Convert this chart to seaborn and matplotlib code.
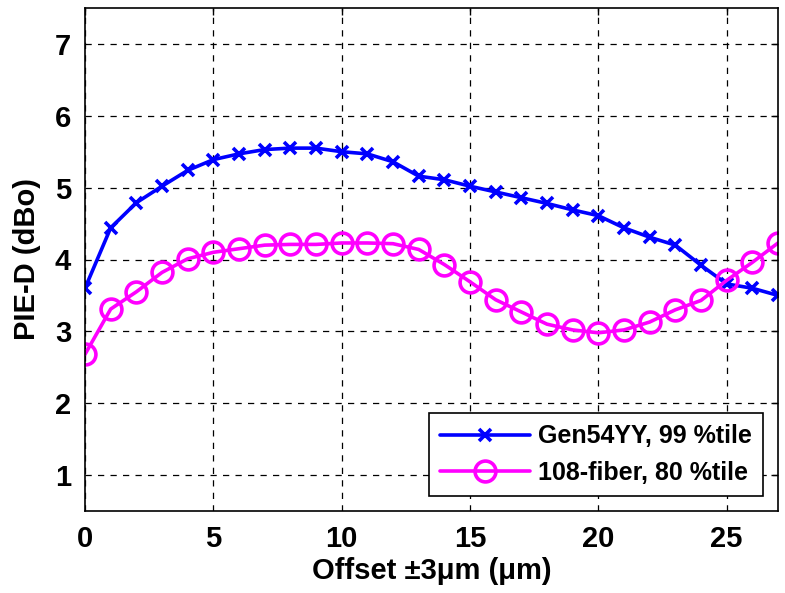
import matplotlib
matplotlib.use("Agg")
import matplotlib.pyplot as plt
import seaborn as sns
import numpy as np
import pandas as pd

offset = list(range(28))
gen54yy = [3.60, 4.44, 4.79, 5.02, 5.24, 5.39, 5.47, 5.53, 5.55, 5.55,
           5.50, 5.47, 5.36, 5.16, 5.11, 5.02, 4.94, 4.86, 4.78, 4.69,
           4.61, 4.44, 4.31, 4.20, 3.92, 3.66, 3.60, 3.50]
fiber108 = [2.68, 3.31, 3.55, 3.82, 4.01, 4.10, 4.15, 4.20, 4.21, 4.21,
            4.23, 4.23, 4.22, 4.14, 3.93, 3.69, 3.44, 3.27, 3.10, 3.02,
            2.98, 3.02, 3.13, 3.30, 3.43, 3.71, 3.96, 4.23]
labels = ["Gen54YY, 99 %tile", "108-fiber, 80 %tile"]
xticks = [0, 5, 10, 15, 20, 25]
yticks = [1, 2, 3, 4, 5, 6, 7]

sns.set_style("white")
plt.rcParams['font.family'] = ['Liberation Sans', 'DejaVu Sans']
plt.rcParams['font.weight'] = 'bold'
plt.rcParams['text.color'] = 'black'
plt.rcParams['axes.labelcolor'] = 'black'

fig = plt.figure(figsize=(7.85, 5.93), dpi=100)
ax = fig.add_axes([85/785, 1-511/593, (778-85)/785, (511-8)/593])

sns.lineplot(x=offset, y=gen54yy, ax=ax, color="#0000ff", lw=2.6,
             marker="x", markersize=9, mew=2.6, mec="#0000ff", label=labels[0])
sns.lineplot(x=offset, y=fiber108, ax=ax, color="#ff00ff", lw=2.6,
             marker="o", markersize=15, mew=2.6, mec="#ff00ff", mfc="none",
             label=labels[1])

ax.set_xlim(0, 27)
ax.set_ylim(0.5, 7.5)
ax.set_xticks(xticks)
ax.set_yticks(yticks)
ax.grid(True, color="black", linestyle=(0, (5, 5)), linewidth=0.9)
ax.set_axisbelow(True)
for s in ax.spines.values():
    s.set_color("black")
    s.set_linewidth(1.2)
ax.tick_params(direction="in", length=5, width=1, top=True, right=True,
               labelsize=21, pad=10, colors="black")
for t in ax.get_xticklabels() + ax.get_yticklabels():
    t.set_fontweight("bold")
ax.set_xlabel("Offset \u00b13\u03bcm (\u03bcm)", fontsize=21, fontweight="bold",
              labelpad=3, color="black")
ax.set_ylabel("PIE-D (dBo)", fontsize=21, fontweight="bold", labelpad=10,
              color="black")

leg = ax.legend(loc="lower right", frameon=True, fancybox=False,
                edgecolor="black", framealpha=1, handlelength=3.6,
                borderaxespad=0.6, labelspacing=0.5, handletextpad=0.3,
                borderpad=0.45, prop={'weight': 'bold', 'size': 18})
leg.get_frame().set_linewidth(1.2)
for t in leg.get_texts():
    t.set_color("black")

fig.savefig("out.png", dpi=100)
